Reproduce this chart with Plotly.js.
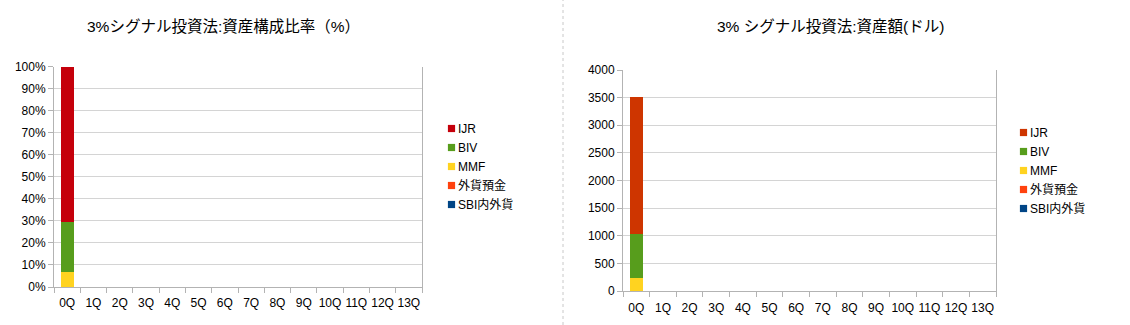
<!DOCTYPE html>
<html>
<head>
<meta charset="utf-8">
<script src="https://cdn.plot.ly/plotly-3.0.1.min.js"></script>
<style>
html,body{margin:0;padding:0;background:#fff;}
#chart{width:1130px;height:325px;}
</style>
</head>
<body>
<div id="chart"></div>
<script>
const quarters = ["0Q","1Q","2Q","3Q","4Q","5Q","6Q","7Q","8Q","9Q","10Q","11Q","12Q","13Q"];
const seriesNames = ["SBI内外貨","外貨預金","MMF","BIV","IJR"];

// Left chart: asset composition ratio (%)
const pctSBI  = [0, null,null,null,null,null,null,null,null,null,null,null,null,null];
const pctFX   = [0, null,null,null,null,null,null,null,null,null,null,null,null,null];
const pctMMF  = [6.8, null,null,null,null,null,null,null,null,null,null,null,null,null];
const pctBIV  = [22.7, null,null,null,null,null,null,null,null,null,null,null,null,null];
const pctIJR  = [70.5, null,null,null,null,null,null,null,null,null,null,null,null,null];

// Right chart: asset amount (dollars)
const usdSBI  = [0, null,null,null,null,null,null,null,null,null,null,null,null,null];
const usdFX   = [0, null,null,null,null,null,null,null,null,null,null,null,null,null];
const usdMMF  = [242, null,null,null,null,null,null,null,null,null,null,null,null,null];
const usdBIV  = [787, null,null,null,null,null,null,null,null,null,null,null,null,null];
const usdIJR  = [2481, null,null,null,null,null,null,null,null,null,null,null,null,null];

const pctTicks = [0,10,20,30,40,50,60,70,80,90,100];
const pctTickText = pctTicks.map(v => v + "%");
const usdTicks = [0,500,1000,1500,2000,2500,3000,3500,4000];

const colorsLeft  = ["#004586","#FF420E","#FFD320","#579D1C","#C5000B"];
const colorsRight = ["#004586","#FF420E","#FFD320","#579D1C","#CE3500"];

const leftVals  = [pctSBI, pctFX, pctMMF, pctBIV, pctIJR];
const rightVals = [usdSBI, usdFX, usdMMF, usdBIV, usdIJR];

const traces = [];
seriesNames.forEach((n, i) => {
  traces.push({type:"bar", name:n, x:quarters, y:leftVals[i], xaxis:"x", yaxis:"y",
    marker:{color:colorsLeft[i], line:{width:0}}, width:0.5, legend:"legend", hoverinfo:"skip"});
});
seriesNames.forEach((n, i) => {
  traces.push({type:"bar", name:n, x:quarters, y:rightVals[i], xaxis:"x2", yaxis:"y2",
    marker:{color:colorsRight[i], line:{width:0}}, width:0.5, legend:"legend2", hoverinfo:"skip"});
});

const font = "Liberation Sans, Arial, 'Noto Sans CJK JP', sans-serif";
const W = 1130, H = 325;
const xAxisBase = {
  type:"category", tickson:"boundaries", ticks:"outside", ticklen:5, tickcolor:"#b3b3b3",
  showline:true, linecolor:"#b3b3b3", linewidth:1, showgrid:false, fixedrange:true, tickangle:0,
  tickfont:{family:font, size:12, color:"#000"}, range:[-0.5, 13.5]
};
const yAxisBase = {
  ticks:"outside", ticklen:5, tickcolor:"#b3b3b3", showline:true, linecolor:"#b3b3b3",
  mirror:true, gridcolor:"#d4d4d4", gridwidth:1, zeroline:false, fixedrange:true,
  tickfont:{family:font, size:12, color:"#000"}
};

const layout = {
  width:W, height:H, margin:{l:0,r:0,t:0,b:0}, paper_bgcolor:"#fff", plot_bgcolor:"#fff",
  barmode:"stack", bargap:0.5, showlegend:true,
  font:{family:font, size:12, color:"#000"},
  xaxis:Object.assign({}, xAxisBase, {domain:[54/W, 422/W], anchor:"y", ticklabelstandoff:5}),
  yaxis:Object.assign({}, yAxisBase, {domain:[1-287/H, 1-66.7/H], anchor:"x", range:[0,100],
    tickvals:pctTicks, ticktext:pctTickText}),
  xaxis2:Object.assign({}, xAxisBase, {domain:[623/W, 996/W], anchor:"y2", ticklabelstandoff:6}),
  yaxis2:Object.assign({}, yAxisBase, {domain:[1-291/H, 1-70/H], anchor:"x2", range:[0,4000],
    tickvals:usdTicks}),
  legend:{x:418/W, y:1-114/H, xanchor:"left", yanchor:"top", traceorder:"reversed",
    font:{family:font, size:12, color:"#000"}, itemwidth:30, tracegroupgap:0, bgcolor:"rgba(0,0,0,0)"},
  legend2:{x:990/W, y:1-118/H, xanchor:"left", yanchor:"top", traceorder:"reversed",
    font:{family:font, size:12, color:"#000"}, itemwidth:30, tracegroupgap:0, bgcolor:"rgba(0,0,0,0)"},
  annotations:[
    {text:"3%シグナル投資法:資産構成比率（%）", x:223/W, y:1-27/H, xref:"paper", yref:"paper",
     showarrow:false, xanchor:"center", yanchor:"middle", font:{family:font, size:15.5, color:"#000"}},
    {text:"3% シグナル投資法:資産額(ドル)", x:830/W, y:1-27/H, xref:"paper", yref:"paper",
     showarrow:false, xanchor:"center", yanchor:"middle", font:{family:font, size:15.5, color:"#000"}}
  ],
  shapes:[
    {type:"line", xref:"paper", yref:"paper", x0:563/W, x1:563/W, y0:0, y1:1,
     line:{color:"#c8c8c8", width:1, dash:"dot"}}
  ]
};

Plotly.newPlot("chart", traces, layout, {staticPlot:true, displayModeBar:false}).then(() => {
  document.querySelectorAll(".legendpoints path").forEach(p => {
    p.setAttribute("transform", "translate(33.5,0) scale(0.6)");
  });
});
</script>
</body>
</html>
